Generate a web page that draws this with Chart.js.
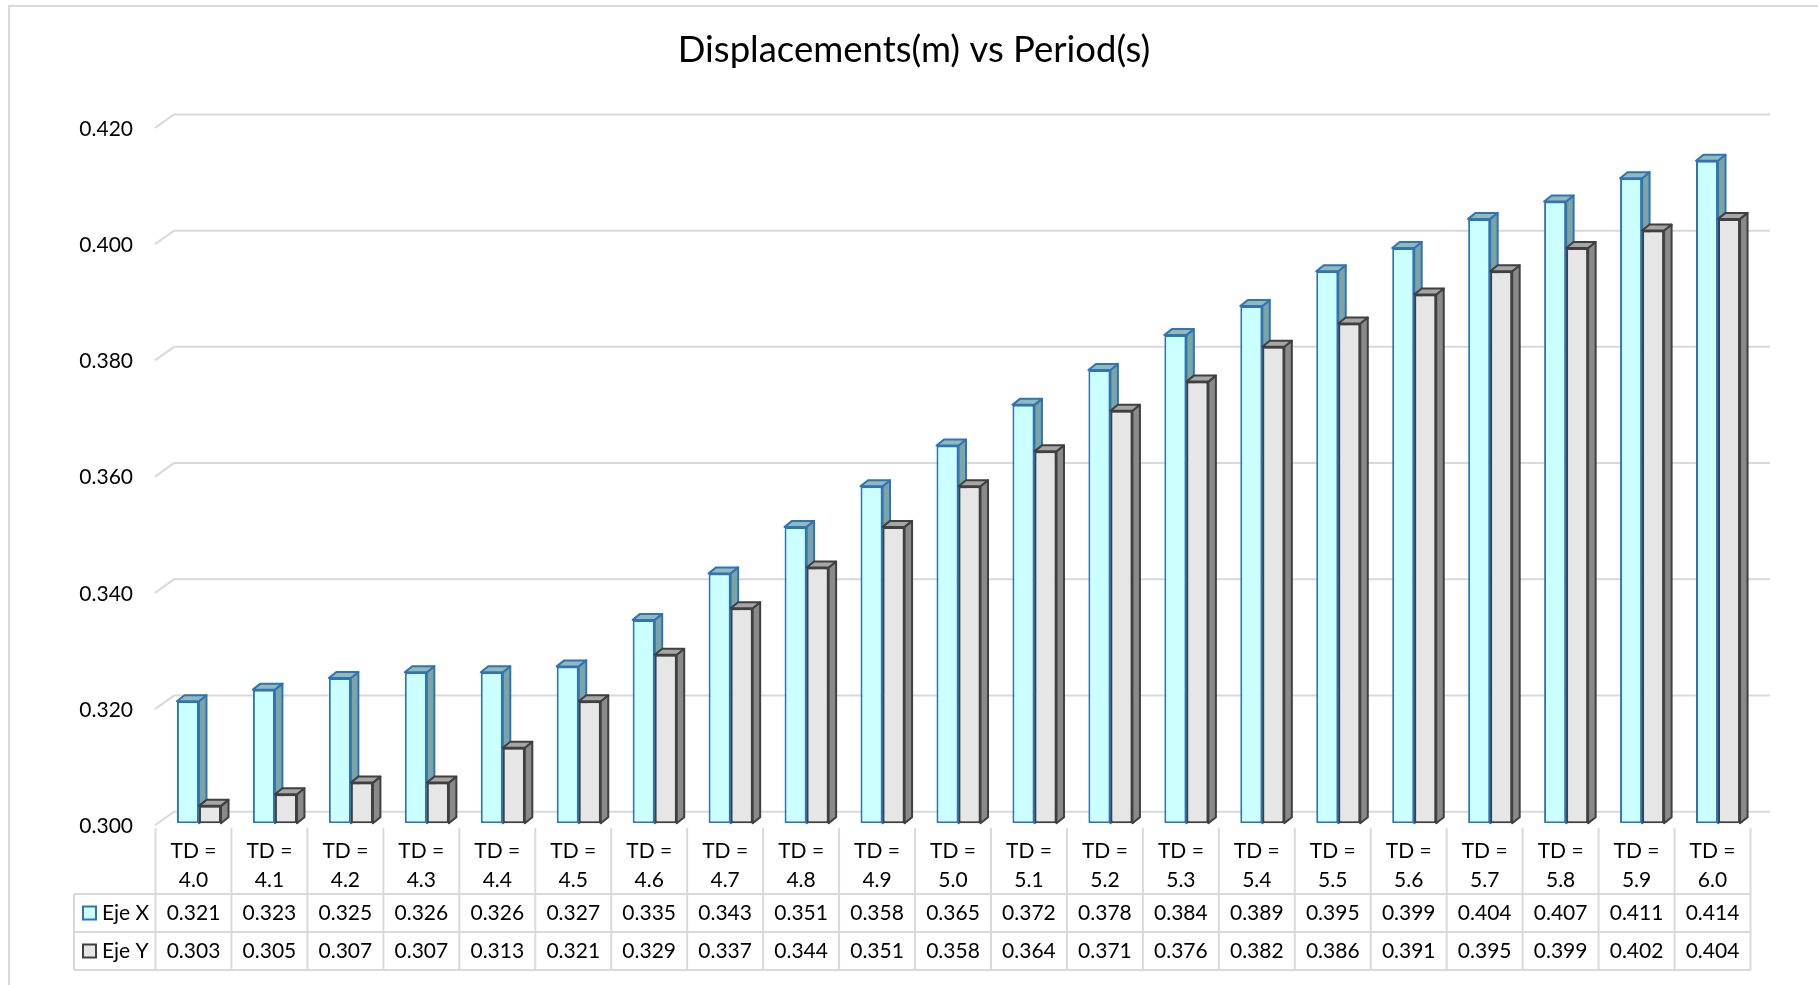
<!DOCTYPE html>
<html>
<head>
<meta charset="utf-8">
<script src="https://cdn.jsdelivr.net/npm/chart.js@4.4.1/dist/chart.umd.min.js"></script>
<style>
  html, body { margin: 0; padding: 0; background: #ffffff; }
  #c { display: block; }
</style>
</head>
<body>
<canvas id="c" width="1818" height="985"></canvas>
<script>
// ---------------- DATA ----------------
const chartTitle = 'Displacements(m) vs Period(s)';
const categories = ['TD = 4.0','TD = 4.1','TD = 4.2','TD = 4.3','TD = 4.4','TD = 4.5','TD = 4.6','TD = 4.7','TD = 4.8','TD = 4.9','TD = 5.0','TD = 5.1','TD = 5.2','TD = 5.3','TD = 5.4','TD = 5.5','TD = 5.6','TD = 5.7','TD = 5.8','TD = 5.9','TD = 6.0'];
const seriesNames = ['Eje X', 'Eje Y'];
const ejeX = [0.321,0.323,0.325,0.326,0.326,0.327,0.335,0.343,0.351,0.358,0.365,0.372,0.378,0.384,0.389,0.395,0.399,0.404,0.407,0.411,0.414];
const ejeY = [0.303,0.305,0.307,0.307,0.313,0.321,0.329,0.337,0.344,0.351,0.358,0.364,0.371,0.376,0.382,0.386,0.391,0.395,0.399,0.402,0.404];
const yTickValues = [0.300,0.320,0.340,0.360,0.380,0.400,0.420];
const yTickLabels = ['0.300','0.320','0.340','0.360','0.380','0.400','0.420'];
const axisMin = 0.300, axisMax = 0.420;

// ---------------- STYLE ----------------
const FONT = 'Lato';
const GRID = '#d9d9d9';
const styles = [
  { front: '#ccffff', border: '#2e75b6', top: '#93b9b9', side: '#7da3a3' },
  { front: '#e6e6e6', border: '#404040', top: '#a6a6a6', side: '#8a8a8a' }
];
const DX = 7.5, DY = -6;

function face(ctx, pts, fill, stroke) {
  ctx.beginPath();
  ctx.moveTo(pts[0][0], pts[0][1]);
  for (let i = 1; i < pts.length; i++) ctx.lineTo(pts[i][0], pts[i][1]);
  ctx.closePath();
  ctx.fillStyle = fill; ctx.fill();
  ctx.lineWidth = 2; ctx.lineJoin = 'round'; ctx.strokeStyle = stroke; ctx.stroke();
}

function draw3D(ctx, bar, st) {
  const p = bar.getProps(['x', 'y', 'base', 'width'], true);
  const l = p.x - p.width / 2, r = p.x + p.width / 2;
  const y = p.y, b = p.base;
  face(ctx, [[r, y], [r + DX, y + DY], [r + DX, b + DY], [r, b]], st.side, st.border);
  face(ctx, [[l, y], [l + DX, y + DY], [r + DX, y + DY], [r, y]], st.top, st.border);
}

const plugin3D = {
  id: 'plugin3D',
  beforeDraw(chart) {
    const ctx = chart.ctx;
    ctx.save();
    ctx.fillStyle = '#ffffff';
    ctx.fillRect(0, 0, chart.width, chart.height);
    ctx.strokeStyle = GRID; ctx.lineWidth = 2;
    ctx.beginPath();
    ctx.moveTo(9, chart.height); ctx.lineTo(9, 6); ctx.lineTo(chart.width, 6);
    ctx.stroke();
    ctx.restore();
  },
  beforeDatasetsDraw(chart) {
    const ctx = chart.ctx, ys = chart.scales.y, xs = chart.scales.x;
    ctx.save();
    ctx.strokeStyle = GRID; ctx.lineWidth = 2;
    yTickValues.forEach(v => {
      const yp = ys.getPixelForValue(v);
      ctx.beginPath();
      ctx.moveTo(xs.left - 6, yp + 2);
      ctx.lineTo(xs.left + 13, yp - 11.5);
      ctx.lineTo(xs.right + 14, yp - 11.5);
      ctx.stroke();
    });
    ctx.restore();
  },
  afterDatasetsDraw(chart) {
    const ctx = chart.ctx;
    const mX = chart.getDatasetMeta(0), mY = chart.getDatasetMeta(1);
    ctx.save();
    mX.data.forEach((bar, i) => {
      draw3D(ctx, bar, styles[0]);
      mY.data[i].draw(ctx);
      draw3D(ctx, mY.data[i], styles[1]);
    });
    ctx.restore();
  },
  afterDraw(chart) {
    const ctx = chart.ctx, xs = chart.scales.x;
    const n = categories.length;
    const cw = xs.width / n;
    const off = -5.5;
    const colL = i => xs.getPixelForValue(i) + off - cw / 2;
    const tableL = 74, tableR = colL(n - 1) + cw;
    const yTop = 828, r1 = 894, r2 = 932, r3 = 970;
    ctx.save();
    ctx.strokeStyle = GRID; ctx.lineWidth = 2;
    ctx.beginPath();
    for (let i = 0; i <= n; i++) {
      const x = i < n ? colL(i) : tableR;
      ctx.moveTo(x, yTop); ctx.lineTo(x, r3);
    }
    ctx.moveTo(tableL, r1); ctx.lineTo(tableR, r1);
    ctx.moveTo(tableL, r2); ctx.lineTo(tableR, r2);
    ctx.moveTo(tableL, r3); ctx.lineTo(tableR, r3);
    ctx.moveTo(tableL, r1); ctx.lineTo(tableL, r3);
    ctx.stroke();

    ctx.fillStyle = '#000000';
    ctx.font = '21px ' + FONT;
    ctx.textAlign = 'center'; ctx.textBaseline = 'middle';
    categories.forEach((c, i) => {
      const cx = colL(i) + cw / 2;
      const k = c.indexOf('= ');
      ctx.fillText(c.slice(0, k + 1), cx, 851);
      ctx.fillText(c.slice(k + 2), cx, 880);
      ctx.fillText(ejeX[i].toFixed(3), cx, (r1 + r2) / 2);
      ctx.fillText(ejeY[i].toFixed(3), cx, (r2 + r3) / 2);
    });
    [[r1, r2], [r2, r3]].forEach((rr, s) => {
      const cy = (rr[0] + rr[1]) / 2;
      ctx.fillStyle = styles[s].front;
      ctx.fillRect(83, cy - 6.5, 13, 13);
      ctx.strokeStyle = styles[s].border; ctx.lineWidth = 2;
      ctx.strokeRect(83, cy - 6.5, 13, 13);
      ctx.fillStyle = '#000000';
      ctx.textAlign = 'left';
      ctx.fillText(seriesNames[s], 102, cy);
    });
    ctx.restore();
  }
};

new Chart(document.getElementById('c'), {
  type: 'bar',
  data: {
    labels: categories,
    datasets: [
      { label: seriesNames[0], data: ejeX, base: axisMin, backgroundColor: styles[0].front, borderColor: styles[0].border,
        borderWidth: 2, borderSkipped: false, categoryPercentage: 0.58, barPercentage: 1.0 },
      { label: seriesNames[1], data: ejeY, base: axisMin, backgroundColor: styles[1].front, borderColor: styles[1].border,
        borderWidth: 2, borderSkipped: false, categoryPercentage: 0.58, barPercentage: 1.0 }
    ]
  },
  options: {
    responsive: false,
    animation: false,
    devicePixelRatio: 1,
    layout: { padding: { left: 72, right: 62, top: 0, bottom: 161.7 } },
    plugins: {
      legend: { display: false },
      tooltip: { enabled: false },
      title: {
        display: true, text: chartTitle, color: '#000000',
        font: { family: FONT, size: 36.5, weight: 'normal' },
        padding: { top: 28.1, bottom: 54 }
      }
    },
    scales: {
      x: { display: false },
      y: {
        min: axisMin, max: axisMax,
        afterFit: axis => { axis.width = 89; },
        afterBuildTicks: axis => { axis.ticks = yTickValues.map(v => ({ value: v })); },
        grid: { display: false, drawTicks: false },
        border: { display: false },
        ticks: {
          color: '#000000', font: { family: FONT, size: 21 }, padding: 28, labelOffset: 3,
          callback: (v, i) => yTickLabels[i]
        }
      }
    }
  },
  plugins: [plugin3D]
});
</script>
</body>
</html>
